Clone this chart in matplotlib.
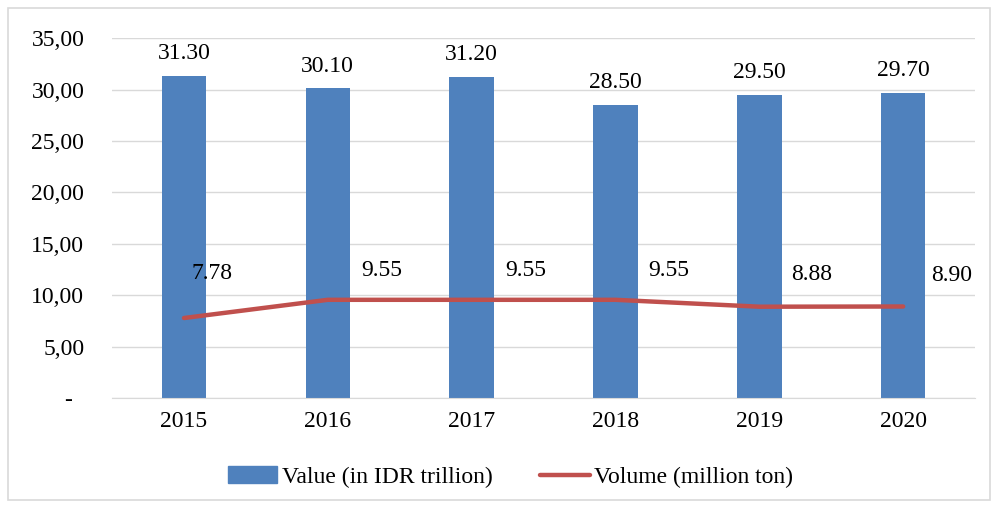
import matplotlib.pyplot as plt
from matplotlib.patches import Rectangle
from matplotlib.lines import Line2D
from matplotlib.ticker import FuncFormatter

years = ['2015', '2016', '2017', '2018', '2019', '2020']
value_idr = [31.30, 30.10, 31.20, 28.50, 29.50, 29.70]
volume_ton = [7.78, 9.55, 9.55, 9.55, 8.88, 8.90]

plt.rcParams['font.family'] = ['Liberation Serif', 'DejaVu Serif']
fs = 17

fig = plt.figure(figsize=(9.95, 5.08), dpi=100)
ax = fig.add_axes([0.1126, 0.2165, 0.8674, 0.7085])

x = list(range(len(years)))
ax.bar(x, value_idr, width=0.31, color='#4F81BD', zorder=2, label='Value (in IDR trillion)')
ax.plot(x, volume_ton, color='#C0504D', linewidth=3.2, solid_capstyle='round', zorder=3,
        label='Volume (million ton)')

# labels on bars
for xi, v in zip(x, value_idr):
    ax.annotate(f'{v:.2f}', (xi, v), xytext=(0, 16), textcoords='offset points',
                ha='center', va='center', fontsize=fs)

# labels for the line (Excel put them up and to the right)
line_offs = [(20, 32), (39, 21), (39, 21), (38, 21), (38, 23), (35, 22)]
for xi, v, (dx, dy) in zip(x, volume_ton, line_offs):
    ax.annotate(f'{v:.2f}', (xi, v), xytext=(dx, dy), textcoords='offset points',
                ha='center', va='center', fontsize=fs)

ax.set_xlim(-0.5, len(years) - 0.5)
ax.set_ylim(0, 35)
ax.set_yticks([0, 5, 10, 15, 20, 25, 30, 35])
ax.yaxis.set_major_formatter(FuncFormatter(lambda v, p: '-  ' if v == 0 else f'{v:.2f}'.replace('.', ',')))
ax.set_xticks(x)
ax.set_xticklabels(years)
ax.tick_params(axis='both', length=0, labelsize=fs)
ax.tick_params(axis='y', pad=20)
ax.tick_params(axis='x', pad=9)
ax.grid(axis='y', color='#D9D9D9', linewidth=1, zorder=0)
ax.set_axisbelow(True)
for s in ['top', 'right', 'left']:
    ax.spines[s].set_visible(False)
ax.spines['bottom'].set_color('#D9D9D9')

handles = [Rectangle((0, 0), 1, 1, color='#4F81BD'),
           Line2D([], [], color='#C0504D', linewidth=3.2, solid_capstyle='round')]
fig.legend(handles, ['Value (in IDR trillion)', 'Volume (million ton)'], loc='center',
           bbox_to_anchor=(0.513, 0.061), ncol=2, frameon=False, fontsize=fs,
           handlelength=2.1, handletextpad=0.2, columnspacing=2.0)

fig.patches.append(Rectangle((8 / 995, 8 / 508), 982 / 995, 492 / 508, transform=fig.transFigure,
                             fill=False, edgecolor='#D9D9D9', linewidth=1.2))

fig.savefig('out.png', dpi=100)
